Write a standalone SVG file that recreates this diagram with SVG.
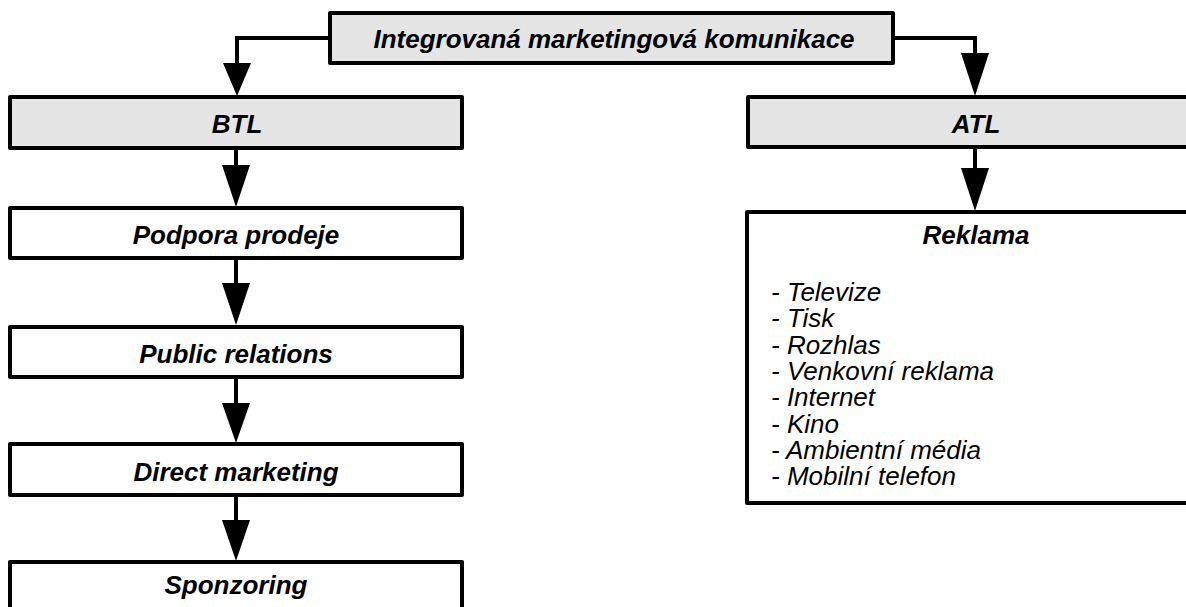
<svg xmlns="http://www.w3.org/2000/svg" width="1186" height="607" viewBox="0 0 1186 607">
  <style>
    .box { stroke: #000; stroke-width: 4; stroke-linejoin: round; }
    .head { fill: #e5e5e5; }
    .plain { fill: #fff; }
    .title { font-family: "Liberation Sans", Arial, sans-serif; font-size: 26px; font-weight: bold; font-style: italic; text-anchor: middle; fill: #000; }
    .item { font-family: "Liberation Sans", Arial, sans-serif; font-size: 26px; font-style: italic; fill: #000; }
    .wire { fill: none; stroke: #000; stroke-width: 4; }
    .tip { fill: #000; }
  </style>
  <rect width="1186" height="607" fill="#fff"/>

  <g id="connectors">
    <!-- top node to BTL -->
    <path class="wire" d="M330 38 H237 V66"/>
    <polygon class="tip" points="223,63 251,63 237,96"/>
    <!-- top node to ATL -->
    <path class="wire" d="M893 38 H975 V56"/>
    <polygon class="tip" points="961,53 989,53 975,96"/>
    <!-- BTL column -->
    <path class="wire" d="M236 148 V168"/>
    <polygon class="tip" points="222,165 250,165 236,207"/>
    <path class="wire" d="M236 258 V286"/>
    <polygon class="tip" points="222,283 250,283 236,325"/>
    <path class="wire" d="M236 377 V406"/>
    <polygon class="tip" points="222,403 250,403 236,443"/>
    <path class="wire" d="M236 495 V523"/>
    <polygon class="tip" points="222,520 250,520 236,561"/>
    <!-- ATL to Reklama -->
    <path class="wire" d="M975 147 V171"/>
    <polygon class="tip" points="961,168 989,168 975,211"/>
  </g>

  <g id="imk">
    <rect class="box head" x="330" y="13" width="563" height="50"/>
    <text class="title" x="614" y="48">Integrovaná marketingová komunikace</text>
  </g>

  <g id="btl">
    <rect class="box head" x="10" y="97" width="452" height="51"/>
    <text class="title" x="237" y="133">BTL</text>
  </g>

  <g id="atl">
    <rect class="box head" x="748" y="97" width="454" height="50"/>
    <text class="title" x="976" y="133">ATL</text>
  </g>

  <g id="podpora-prodeje">
    <rect class="box plain" x="10" y="208" width="452" height="50"/>
    <text class="title" x="236" y="244">Podpora prodeje</text>
  </g>

  <g id="public-relations">
    <rect class="box plain" x="10" y="327" width="452" height="50"/>
    <text class="title" x="236" y="363">Public relations</text>
  </g>

  <g id="direct-marketing">
    <rect class="box plain" x="10" y="444" width="452" height="51"/>
    <text class="title" x="236" y="481">Direct marketing</text>
  </g>

  <g id="sponzoring">
    <rect class="box plain" x="10" y="562" width="452" height="60"/>
    <text class="title" x="236" y="594">Sponzoring</text>
  </g>

  <g id="reklama">
    <rect class="box plain" x="747" y="212" width="455" height="291"/>
    <text class="title" x="976" y="244">Reklama</text>
    <text class="item" x="771" y="301">- Televize</text>
    <text class="item" x="771" y="327.3">- Tisk</text>
    <text class="item" x="771" y="353.6">- Rozhlas</text>
    <text class="item" x="771" y="379.9">- Venkovní reklama</text>
    <text class="item" x="771" y="406.2">- Internet</text>
    <text class="item" x="771" y="432.5">- Kino</text>
    <text class="item" x="771" y="458.8">- Ambientní média</text>
    <text class="item" x="771" y="485.1">- Mobilní telefon</text>
  </g>
</svg>
